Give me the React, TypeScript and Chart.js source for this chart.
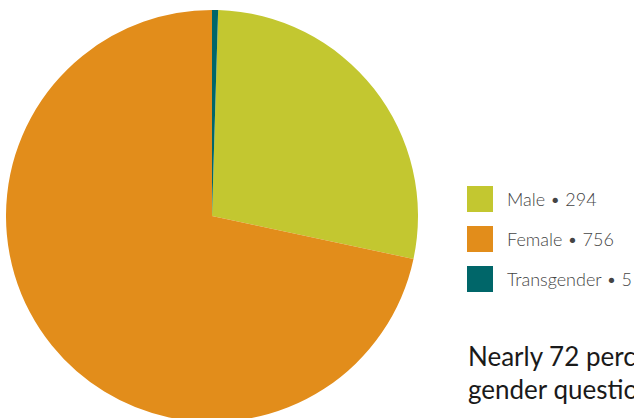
import React, { useEffect, useRef } from "react";
import { Chart, registerables } from "chart.js";

Chart.register(...registerables);

const categories = ["Male", "Female", "Transgender"];
const counts = [294, 756, 5];
const colors = ["#C3C730", "#E28D1B", "#006669"];
const summaryLines = [
  "Nearly 72 percent of respondents who answered the",
  "gender question identified as female.",
];

export default function App() {
  const ref = useRef<HTMLCanvasElement | null>(null);

  useEffect(() => {
    if (!ref.current) return;
    const total = counts.reduce((a, b) => a + b, 0);
    const rot = (counts[counts.length - 1] / total) * 360;
    const chart = new Chart(ref.current, {
      type: "pie",
      data: {
        labels: categories,
        datasets: [
          {
            data: counts,
            backgroundColor: colors,
            borderWidth: 0,
          },
        ],
      },
      options: {
        responsive: false,
        animation: false,
        rotation: rot,
        layout: { padding: 0 },
        plugins: {
          legend: { display: false },
          tooltip: { enabled: false },
        },
      },
    });
    return () => chart.destroy();
  }, []);

  return (
    <div
      style={{
        position: "fixed",
        left: 0,
        top: 0,
        width: 634,
        height: 418,
        overflow: "hidden",
        background: "#fff",
        fontFamily: "Lato, 'Open Sans', sans-serif",
      }}
    >
      <canvas
        ref={ref}
        width={412}
        height={412}
        style={{ position: "absolute", left: 6, top: 10, width: 412, height: 412 }}
      />
      {categories.map((c, i) => (
        <div
          key={c}
          style={{
            position: "absolute",
            left: 467,
            top: 186 + i * 40,
            height: 26,
            display: "flex",
            alignItems: "center",
            whiteSpace: "nowrap",
          }}
        >
          <div style={{ width: 26, height: 26, background: colors[i], flex: "none" }} />
          <span
            style={{
              marginLeft: 14,
              fontSize: 18,
              lineHeight: "26px",
              fontWeight: 300,
              color: "#444",
            }}
          >
            {c} • {counts[i]}
          </span>
        </div>
      ))}
      <div
        style={{
          position: "absolute",
          left: 468,
          top: 340,
          fontSize: 26,
          lineHeight: "33px",
          color: "#1a1a1a",
          whiteSpace: "nowrap",
        }}
      >
        {summaryLines.map((l) => (
          <div key={l}>{l}</div>
        ))}
      </div>
    </div>
  );
}
